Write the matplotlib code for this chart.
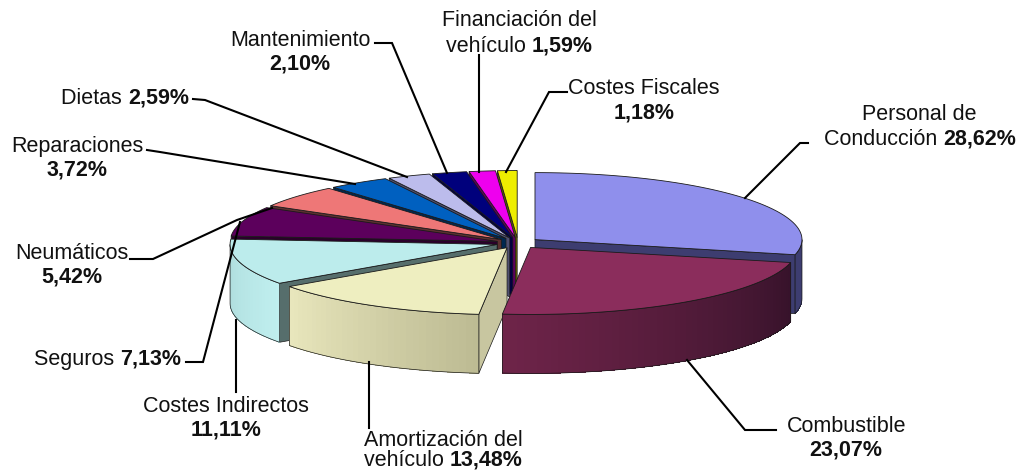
import numpy as np
from matplotlib import pyplot as plt
from matplotlib.patches import Polygon
from matplotlib.colors import to_rgb

plt.rcParams['font.family'] = ['Liberation Sans', 'DejaVu Sans']

names = ['Personal de Conducción', 'Combustible', 'Amortización del vehículo',
         'Costes Indirectos', 'Seguros', 'Neumáticos', 'Reparaciones', 'Dietas',
         'Mantenimiento', 'Financiación del vehículo', 'Costes Fiscales']
values = [28.62, 23.07, 13.48, 11.11, 7.13, 5.42, 3.72, 2.59, 2.10, 1.59, 1.18]

top_colors = ['#8f8fec', '#8b2d5c', '#eeeec0', '#bcecec', '#5c005c', '#ee7777',
              '#0060c0', '#bcbcec', '#00007c', '#ee00ee', '#eeee00']
side_colors = ['#3d3d70', '#3a1428', '#c8c6a0', '#566e6c', '#2a002a', '#5c3030',
               '#002850', '#505070', '#000040', '#600060', '#606000']
# rim gradient, colour at start angle and at end angle of the slice
rim_colors = {0: ('#3d3d70', '#3d3d70'), 1: ('#36122a', '#6e2449'),
              2: ('#bdbb93', '#e8e6bc'), 3: ('#bfeeee', '#aedcdc')}

# pie geometry in pixels
cx, cy = 518, 243
rx, ry = 267, 67
explode = 21.7
depth = 59

fig = plt.figure(figsize=(10.23, 4.73), dpi=100)
ax = fig.add_axes([0, 0, 1, 1])
ax.set_xlim(0, 1023)
ax.set_ylim(473, 0)
ax.axis('off')


def point(apex, deg, dz=0):
    a = np.radians(deg)
    return apex[0] + rx * np.sin(a), apex[1] - ry * np.cos(a) + dz


def shift(p, dz):
    return p[0], p[1] + dz


angles = np.concatenate([[0], np.cumsum(values)]) / sum(values) * 360

# back slices first, then right, then the two front ones
order = [10, 9, 8, 7, 6, 5, 4, 3, 0, 2, 1]
edge = '#1a1a1a'

for i in order:
    a0, a1 = angles[i], angles[i + 1]
    mid = (a0 + a1) / 2
    apex = (cx + explode * np.sin(np.radians(mid)),
            cy - explode * ry / rx * np.cos(np.radians(mid)))

    # radial faces
    if 180 < a0 < 360:
        p = point(apex, a0)
        ax.add_patch(Polygon([apex, p, shift(p, depth), shift(apex, depth)],
                             fc=side_colors[i], ec=edge, lw=0.5))
    if 0 < a1 < 180:
        p = point(apex, a1)
        ax.add_patch(Polygon([apex, p, shift(p, depth), shift(apex, depth)],
                             fc=side_colors[i], ec=edge, lw=0.5))

    # rim with a gradient
    r0, r1 = max(a0, 90), min(a1, 270)
    if r1 > r0:
        c0, c1 = rim_colors[i]
        c0, c1 = np.array(to_rgb(c0)), np.array(to_rgb(c1))
        steps = np.linspace(r0, r1, int((r1 - r0) / 1.5) + 2)
        for k in range(len(steps) - 1):
            t = k / max(len(steps) - 2, 1)
            col = c0 + (c1 - c0) * t
            ax.add_patch(Polygon([point(apex, steps[k]), point(apex, steps[k + 1]),
                                  point(apex, steps[k + 1], depth), point(apex, steps[k], depth)],
                                 fc=col, ec='none', lw=0, antialiased=False))
        outline = [point(apex, d) for d in steps] + [point(apex, d, depth) for d in steps[::-1]]
        ax.add_patch(Polygon(outline, fc='none', ec=edge, lw=0.5))

    # top
    arc = np.linspace(a0, a1, 60)
    ax.add_patch(Polygon([apex] + [point(apex, d) for d in arc],
                         fc=top_colors[i], ec=edge, lw=0.6))

# leader lines
leaders = [
    [(808, 143), (800, 143), (745, 198)],
    [(776, 430), (745, 430), (687, 360)],
    [(369, 362), (369, 428)],
    [(236, 320), (236, 392)],
    [(186, 362), (203, 362), (240, 222)],
    [(130, 259), (153, 259), (237, 220), (272, 208)],
    [(147, 150), (160, 152), (355, 184)],
    [(193, 99), (205, 100), (407, 177)],
    [(375, 43), (392, 43), (447, 173)],
    [(479, 55), (479, 172)],
    [(567, 92), (549, 92), (506, 172)],
]
for pts in leaders:
    xs, ys = zip(*pts)
    ax.plot(xs, ys, color='black', lw=1.5, solid_joinstyle='miter', zorder=5)

renderer = fig.canvas.get_renderer()
fs = 15.5
dy = 2


def label(x, y, parts):
    # a line with regular and bold pieces, centred on x
    texts = [ax.text(0, y + dy, s, fontsize=fs, fontweight=w, va='center', ha='left', color='#111111', zorder=6)
             for s, w in parts]
    widths = [t.get_window_extent(renderer).width for t in texts]
    left = x - sum(widths) / 2
    for t, w in zip(texts, widths):
        t.set_x(left)
        left += w


def pct(v):
    return f'{v:.2f}%'.replace('.', ',')


R, B = 'normal', 'bold'
label(919, 112, [('Personal de', R)])
label(920, 137, [('Conducción ', R), (pct(values[0]), B)])
label(847, 424, [(names[1], R)])
label(846, 448, [(pct(values[1]), B)])
label(443, 438, [('Amortización del', R)])
label(443, 458, [('vehículo ', R), (pct(values[2]), B)])
label(226, 404, [(names[3], R)])
label(226, 428, [(pct(values[3]), B)])
label(108, 357, [(names[4] + ' ', R), (pct(values[4]), B)])
label(72, 251, [(names[5], R)])
label(72, 275, [(pct(values[5]), B)])
label(77, 144, [(names[6], R)])
label(77, 168, [(pct(values[6]), B)])
label(125, 96, [(names[7] + ' ', R), (pct(values[7]), B)])
label(300, 38, [(names[8], R)])
label(300, 62, [(pct(values[8]), B)])
label(519, 18, [('Financiación del', R)])
label(519, 44, [('vehículo ', R), (pct(values[9]), B)])
label(644, 87, [(names[10], R)])
label(644, 111, [(pct(values[10]), B)])

plt.savefig('out.png', dpi=100)
